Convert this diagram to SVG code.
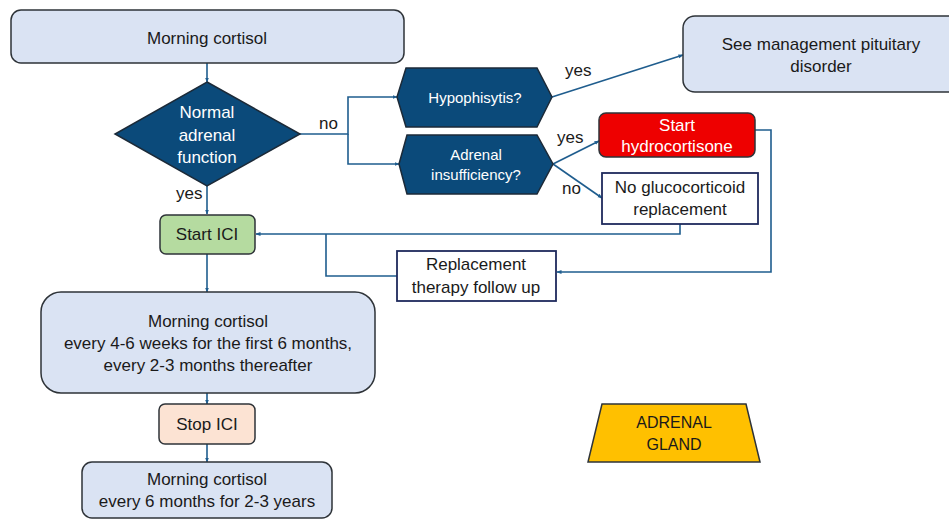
<svg xmlns="http://www.w3.org/2000/svg" width="949" height="519" viewBox="0 0 949 519">
<style>
text{font-family:"Liberation Sans",Arial,sans-serif;font-size:17px;fill:#1a1a1a;text-anchor:middle}
.w{fill:#ffffff}
.lb{fill:#dae3f3;stroke:#2e3338;stroke-width:1.5}
.hex{fill:#0b4a7a;stroke:#1c2a38;stroke-width:1.5}
.nav{fill:#ffffff;stroke:#1f2a5c;stroke-width:1.8}
.c{fill:none;stroke:#1f5d8e;stroke-width:1.6}
.lbl{text-anchor:start}
.s15{font-size:15px}
</style>
<defs>
<marker id="ah" viewBox="0 0 10 10" refX="9" refY="5" markerWidth="5" markerHeight="5" orient="auto" markerUnits="userSpaceOnUse">
<path d="M0,1 L10,5 L0,9 z" fill="#1f5d8e"/>
</marker>
</defs>
<rect width="949" height="519" fill="#ffffff"/>
<g id="connectors">
<path class="c" d="M207,63 V82" marker-end="url(#ah)"/>
<path class="c" d="M207,186 V214" marker-end="url(#ah)"/>
<path class="c" d="M300,134 H348 V97 H397" marker-end="url(#ah)"/>
<path class="c" d="M348,134 V164 H399" marker-end="url(#ah)"/>
<path class="c" d="M552,97 L683,55" marker-end="url(#ah)"/>
<path class="c" d="M553,164 L599,141" marker-end="url(#ah)"/>
<path class="c" d="M553,164 L602,198" marker-end="url(#ah)"/>
<path class="c" d="M680,224 V234 H256" marker-end="url(#ah)"/>
<path class="c" d="M397,276 H326 V234"/>
<path class="c" d="M755,130 H771 V272 H557" marker-end="url(#ah)"/>
<path class="c" d="M207,254 V292" marker-end="url(#ah)"/>
<path class="c" d="M207,393 V404" marker-end="url(#ah)"/>
<path class="c" d="M207,444 V462" marker-end="url(#ah)"/>
<text class="lbl" x="319" y="129">no</text>
<text class="lbl" x="176" y="199">yes</text>
<text class="lbl" x="565" y="76">yes</text>
<text class="lbl" x="557" y="143">yes</text>
<text class="lbl" x="562" y="194">no</text>
</g>
<g id="morning-cortisol">
<rect class="lb" x="11" y="10" width="393" height="53" rx="10"/>
<text x="207" y="44">Morning cortisol</text>
</g>
<g id="normal-adrenal">
<polygon class="hex" points="207,82 300,134 207,186 115,134"/>
<text class="w" x="207" y="118">Normal</text>
<text class="w" x="207" y="141">adrenal</text>
<text class="w" x="207" y="163">function</text>
</g>
<g id="hypophisytis">
<polygon class="hex" points="397,97 406,68 537,68 552,97 537,127 406,127"/>
<text class="w s15" x="475" y="103">Hypophisytis?</text>
</g>
<g id="adrenal-insufficiency">
<polygon class="hex" points="399,164 407,135 537,135 553,164 537,194 407,194"/>
<text class="w s15" x="476" y="160">Adrenal</text>
<text class="w s15" x="476" y="180">insufficiency?</text>
</g>
<g id="see-management">
<rect class="lb" x="683" y="16" width="280" height="76" rx="12"/>
<text x="821" y="50">See management pituitary</text>
<text x="821" y="72">disorder</text>
</g>
<g id="start-hydrocortisone">
<rect x="599" y="113" width="156" height="44" rx="7" fill="#ee0000" stroke="#2e3338" stroke-width="1.5"/>
<text class="w" x="677" y="131">Start</text>
<text class="w" x="677" y="152">hydrocortisone</text>
</g>
<g id="no-glucocorticoid">
<rect class="nav" x="602" y="173" width="156" height="51"/>
<text x="680" y="193">No glucocorticoid</text>
<text x="680" y="215">replacement</text>
</g>
<g id="start-ici">
<rect x="160" y="215" width="95" height="39" rx="6" fill="#b5dba0" stroke="#2e3338" stroke-width="1.5"/>
<text x="207" y="240">Start ICI</text>
</g>
<g id="replacement-followup">
<rect class="nav" x="397" y="251" width="159" height="50"/>
<text x="476" y="270">Replacement</text>
<text x="476" y="293">therapy follow up</text>
</g>
<g id="morning-cortisol-periodic">
<rect class="lb" x="41" y="292" width="334" height="101" rx="20"/>
<text x="208" y="327">Morning cortisol</text>
<text x="208" y="349">every 4-6 weeks for the first 6 months,</text>
<text x="208" y="371">every 2-3 months thereafter</text>
</g>
<g id="stop-ici">
<rect x="159" y="404" width="96" height="40" rx="6" fill="#fce3d3" stroke="#2e3338" stroke-width="1.5"/>
<text x="207" y="430">Stop ICI</text>
</g>
<g id="morning-cortisol-late">
<rect class="lb" x="82" y="462" width="250" height="56" rx="10"/>
<text x="207" y="485">Morning cortisol</text>
<text x="207" y="507">every 6 months for 2-3 years</text>
</g>
<g id="adrenal-gland">
<polygon points="602,404 746,404 760,462 588,462" fill="#ffc000" stroke="#2e3338" stroke-width="1.5"/>
<text x="674" y="428" style="font-size:16px">ADRENAL</text>
<text x="674" y="450" style="font-size:16px">GLAND</text>
</g>
</svg>
